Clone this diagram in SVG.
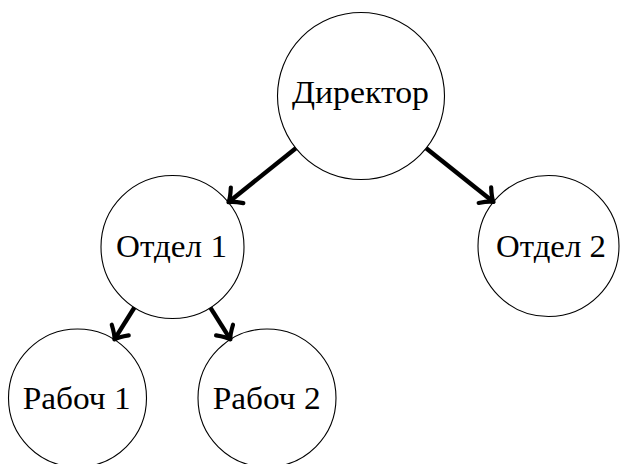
<svg xmlns="http://www.w3.org/2000/svg" width="620" height="464" viewBox="0 0 620 464">
<style>
.node circle{fill:#fff;stroke:#000;stroke-width:1.1}
.node text{font-family:"Liberation Serif","DejaVu Serif",serif;font-size:31px;fill:#000;text-anchor:middle}
.edge{stroke:#000;stroke-width:4.4;fill:none;marker-end:url(#arr)}
</style>
<defs>
<marker id="arr" markerUnits="userSpaceOnUse" viewBox="-14 -12 18 24" markerWidth="18" markerHeight="24" refX="0" refY="0" orient="auto" overflow="visible">
<path d="M-11,-10 Q-4,-2 0,0 Q-4,2 -11,10" fill="none" stroke="#000" stroke-width="4.2" stroke-linecap="round" stroke-linejoin="round"/>
</marker>
</defs>
<g id="nodes">
<g id="director" class="node"><circle cx="361" cy="96" r="83.5"/><text x="360.5" y="103" textLength="137" lengthAdjust="spacingAndGlyphs">Директор</text></g>
<g id="otdel1" class="node"><circle cx="172.5" cy="247" r="71.5"/><text x="171.5" y="257" textLength="111" lengthAdjust="spacingAndGlyphs">Отдел 1</text></g>
<g id="otdel2" class="node"><circle cx="548.5" cy="246" r="70.5"/><text x="551" y="257" textLength="110" lengthAdjust="spacingAndGlyphs">Отдел 2</text></g>
<g id="rab1" class="node"><circle cx="77.5" cy="398" r="69"/><text x="76.7" y="409" textLength="108" lengthAdjust="spacingAndGlyphs">Рабоч 1</text></g>
<g id="rab2" class="node"><circle cx="267" cy="398" r="69"/><text x="266.7" y="409" textLength="108" lengthAdjust="spacingAndGlyphs">Рабоч 2</text></g>
</g>
<g id="connectors">
<line class="edge" x1="295.8" y1="148.2" x2="228.5" y2="202.2"/>
<line class="edge" x1="426.2" y1="148.2" x2="493.5" y2="202"/>
<line class="edge" x1="134.4" y1="307.5" x2="114.4" y2="339.4"/>
<line class="edge" x1="210.4" y1="307.6" x2="230.4" y2="339.4"/>
</g>
</svg>
